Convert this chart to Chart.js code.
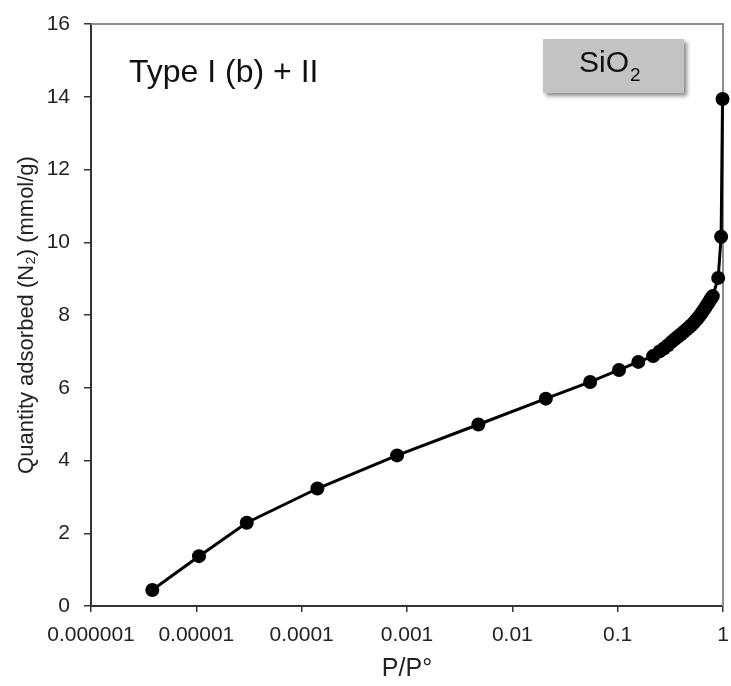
<!DOCTYPE html>
<html><head><meta charset="utf-8">
<script src="https://cdn.jsdelivr.net/npm/chart.js@4/dist/chart.umd.min.js"></script>
<style>html,body{margin:0;padding:0;background:#fff}#wrap{width:731px;height:686px}</style>
</head><body><div id="wrap"><canvas id="c" width="731" height="686"></canvas></div>
<script>
// ---- data ----
const relPressure = [3.82e-6, 1.06e-5, 3.01e-5, 1.41e-4, 8.05e-4, 4.76e-3, 0.0208, 0.0548, 0.103, 0.157, 0.217,
  0.25, 0.275, 0.30, 0.325, 0.35, 0.375, 0.40, 0.425, 0.45, 0.475, 0.50, 0.525, 0.55, 0.575, 0.60, 0.625,
  0.65, 0.675, 0.70, 0.725, 0.75, 0.775, 0.80, 0.90, 0.96, 0.99];
const quantityAdsorbed = [0.44, 1.37, 2.29, 3.23, 4.14, 4.99, 5.70, 6.16, 6.49, 6.71, 6.87,
  7.00, 7.08, 7.17, 7.26, 7.34, 7.41, 7.47, 7.54, 7.60, 7.66, 7.72, 7.78, 7.85, 7.91, 7.98, 8.05,
  8.12, 8.19, 8.26, 8.33, 8.40, 8.46, 8.52, 9.02, 10.15, 13.94];
const xTickValues = [1e-6, 1e-5, 1e-4, 1e-3, 1e-2, 1e-1, 1];
const xTickLabels = ['0.000001', '0.00001', '0.0001', '0.001', '0.01', '0.1', '1'];
const yTickValues = [0, 2, 4, 6, 8, 10, 12, 14, 16];
const xTitle = 'P/P°';
const yTitle = 'Quantity adsorbed (N\u2082) (mmol/g)';
const typeLabel = 'Type I (b) + II';
const sampleMain = 'SiO';
const sampleSub = '2';

const FONT = "'Liberation Sans', Arial, sans-serif";

const decorPlugin = {
  id: 'decor',
  beforeDatasetsDraw(chart) {
    const {ctx, chartArea: a} = chart;
    ctx.save();
    ctx.strokeStyle = '#8c8c8c';
    ctx.lineWidth = 2;
    ctx.beginPath();
    ctx.moveTo(a.left, a.top);
    ctx.lineTo(a.right, a.top);
    ctx.lineTo(a.right, a.bottom);
    ctx.stroke();
    ctx.restore();
  },
  afterDraw(chart) {
    const {ctx} = chart;
    ctx.save();
    ctx.fillStyle = '#111';
    ctx.font = '32px ' + FONT;
    ctx.textBaseline = 'alphabetic';
    ctx.textAlign = 'left';
    ctx.fillText(typeLabel, 129, 82);
    ctx.save();
    ctx.shadowColor = 'rgba(0,0,0,0.45)';
    ctx.shadowBlur = 4;
    ctx.shadowOffsetX = 3;
    ctx.shadowOffsetY = 3;
    ctx.fillStyle = '#c3c3c3';
    ctx.fillRect(543, 39, 141, 54);
    ctx.restore();
    ctx.fillStyle = '#111';
    ctx.font = '30px ' + FONT;
    ctx.fillText(sampleMain, 579, 72);
    const w = ctx.measureText(sampleMain).width;
    ctx.font = '19px ' + FONT;
    ctx.fillText(sampleSub, 579 + w + 1, 81);
    ctx.restore();
  }
};

new Chart(document.getElementById('c'), {
  type: 'line',
  data: {
    datasets: [{
      data: relPressure.map((p, i) => ({x: p, y: quantityAdsorbed[i]})),
      borderColor: '#000',
      backgroundColor: '#000',
      borderWidth: 3,
      pointRadius: 7,
      pointHoverRadius: 7,
      pointBackgroundColor: '#000',
      pointBorderColor: '#000',
      pointBorderWidth: 0,
      tension: 0,
      clip: false
    }]
  },
  options: {
    responsive: false,
    animation: false,
    devicePixelRatio: 1,
    layout: {autoPadding: false, padding: {top: 24, right: 8, left: 0, bottom: 0}},
    plugins: {legend: {display: false}, tooltip: {enabled: false}},
    scales: {
      x: {
        type: 'logarithmic',
        min: 1e-6, max: 1,
        afterBuildTicks(s) { s.ticks = xTickValues.map(v => ({value: v})); },
        afterFit(s) { s.height = 80; s.paddingRight = 0; s.paddingLeft = 0; },
        ticks: {
          color: '#222',
          font: {family: FONT, size: 21},
          padding: 11,
          maxRotation: 0,
          autoSkip: false,
          callback(v) { const i = xTickValues.indexOf(v); return i >= 0 ? xTickLabels[i] : ''; }
        },
        grid: {drawOnChartArea: false, drawTicks: true, tickLength: 6, color: '#333', lineWidth: 1.5},
        border: {color: '#333', width: 2},
        title: {display: true, text: xTitle, color: '#222', font: {family: FONT, size: 25}, padding: {top: 0, bottom: 2}}
      },
      y: {
        type: 'linear',
        min: 0, max: 16,
        afterBuildTicks(s) { s.ticks = yTickValues.map(v => ({value: v})); },
        afterFit(s) { s.width = 91; s.paddingTop = 0; s.paddingBottom = 0; },
        ticks: {color: '#222', font: {family: FONT, size: 21}, padding: 14},
        grid: {drawOnChartArea: false, drawTicks: true, tickLength: 7, color: '#333', lineWidth: 1.5},
        border: {color: '#333', width: 2},
        title: {display: true, text: yTitle, color: '#222', font: {family: FONT, size: 22}, padding: {top: 14, bottom: 0}}
      }
    }
  },
  plugins: [decorPlugin]
});
</script>
</body></html>
